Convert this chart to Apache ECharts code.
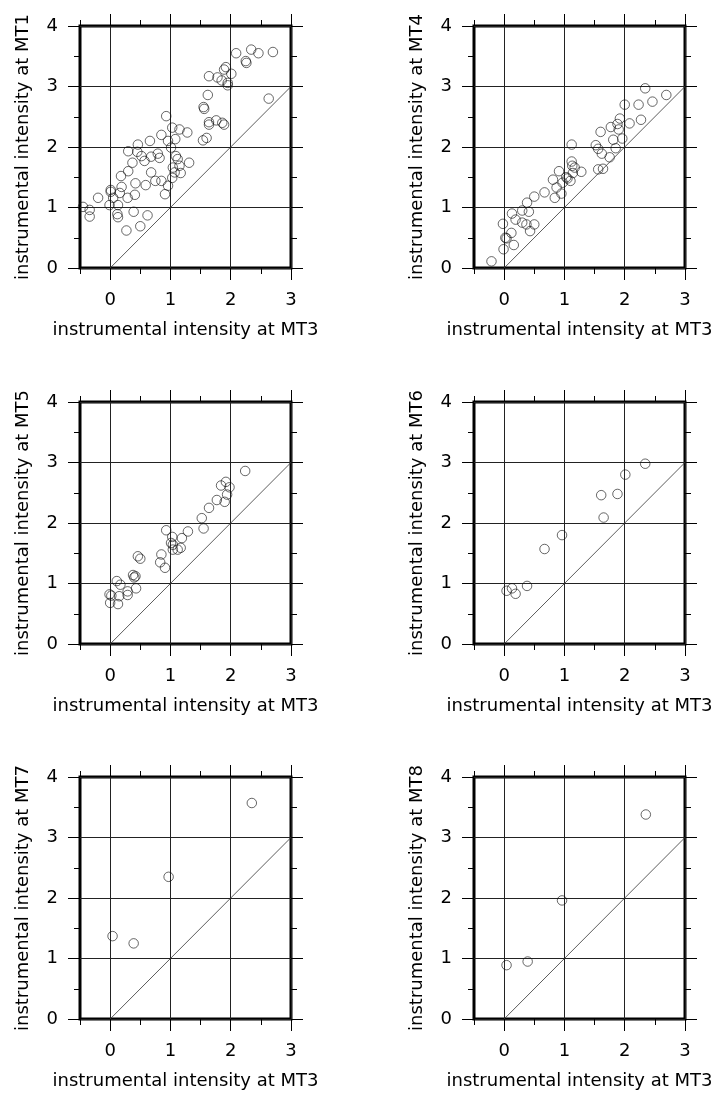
<!DOCTYPE html>
<html>
<head>
<meta charset="utf-8">
<script src="https://cdn.jsdelivr.net/npm/echarts@6/dist/echarts.min.js"></script>
<style>
  html, body { margin: 0; padding: 0; background: #fff; }
  #main { width: 721px; height: 1095px; }
</style>
</head>
<body>
<div id="main"></div>
<script>
// tick values
const xMajor = [0, 1, 2, 3];
const xName = 'instrumental intensity at MT3';
const yStations = ['MT1', 'MT4', 'MT5', 'MT6', 'MT7', 'MT8'];
const diagonal = [[0, 0], [3, 3]];

// [intensity at MT3, intensity at station]
const mt1 = [
  [0.93, 2.51], [1.03, 2.32], [1.15, 2.29], [1.28, 2.24], [0.85, 2.20], [0.46, 2.04], [0.66, 2.10],
  [0.96, 2.10], [1.08, 2.13], [0.30, 1.93], [0.45, 1.92], [0.52, 1.85], [0.68, 1.84], [0.79, 1.89],
  [0.82, 1.82], [0.37, 1.74], [0.57, 1.77], [1.01, 1.99], [1.09, 1.85], [1.12, 1.80], [1.15, 1.69],
  [1.04, 1.66], [0.30, 1.60], [0.18, 1.52], [0.68, 1.58], [1.07, 1.58], [1.03, 1.49], [0.42, 1.40],
  [0.59, 1.37], [0.75, 1.44], [0.85, 1.44], [0.96, 1.36], [0.01, 1.29], [0.01, 1.26], [0.19, 1.34],
  [0.16, 1.24], [0.05, 1.16], [0.29, 1.16], [0.41, 1.21], [0.91, 1.22], [-0.20, 1.16], [-0.45, 1.01],
  [-0.34, 0.96], [-0.34, 0.85], [-0.01, 1.04], [0.13, 1.04], [0.12, 0.89], [0.13, 0.84], [0.39, 0.93],
  [0.62, 0.87], [0.50, 0.69], [0.27, 0.62],
  [2.09, 3.55], [2.34, 3.61], [2.46, 3.55], [2.70, 3.57], [2.25, 3.42], [2.26, 3.39], [1.92, 3.32],
  [1.89, 3.28], [2.01, 3.21], [1.64, 3.17], [1.78, 3.15], [1.85, 3.10], [1.95, 3.06], [1.95, 3.02],
  [2.63, 2.80], [1.62, 2.86], [1.55, 2.66], [1.56, 2.63], [1.64, 2.41], [1.64, 2.37], [1.76, 2.44],
  [1.86, 2.40], [1.89, 2.37], [1.60, 2.15], [1.54, 2.11], [1.31, 1.74], [1.17, 1.57]
];
const mt4 = [
  [2.34, 2.97], [2.69, 2.86], [2.46, 2.75], [2.23, 2.70], [2.00, 2.70], [1.92, 2.47], [1.77, 2.33],
  [1.88, 2.38], [1.90, 2.29], [2.08, 2.39], [2.27, 2.45], [1.60, 2.25], [1.81, 2.12], [1.96, 2.14],
  [1.85, 1.98], [1.52, 2.03], [1.56, 1.97], [1.62, 1.89], [1.75, 1.83], [1.56, 1.63], [1.64, 1.64],
  [1.12, 2.04], [1.12, 1.76], [1.13, 1.69], [1.17, 1.66], [1.28, 1.59], [1.14, 1.57], [0.91, 1.60],
  [1.03, 1.50], [1.05, 1.48], [1.10, 1.44], [0.81, 1.46], [0.97, 1.41], [0.87, 1.33], [0.95, 1.23],
  [0.84, 1.16], [0.67, 1.25], [0.50, 1.18], [0.38, 1.08], [0.41, 0.93], [0.30, 0.95], [0.13, 0.90],
  [0.19, 0.80], [0.30, 0.75], [0.37, 0.72], [0.50, 0.72], [0.43, 0.61], [0.12, 0.58], [-0.02, 0.73],
  [0.02, 0.50], [0.04, 0.49], [0.16, 0.38], [-0.01, 0.31], [-0.21, 0.11]
];
const mt5 = [
  [2.24, 2.86], [1.92, 2.68], [1.84, 2.62], [1.98, 2.59], [1.94, 2.47], [1.90, 2.35], [1.77, 2.38],
  [1.64, 2.25], [1.52, 2.08], [1.55, 1.91], [1.29, 1.86], [0.93, 1.88], [1.03, 1.77], [1.19, 1.75],
  [1.01, 1.67], [1.04, 1.64], [1.17, 1.59], [1.12, 1.56], [1.04, 1.56], [0.85, 1.48], [0.46, 1.45],
  [0.50, 1.41], [0.83, 1.35], [0.91, 1.26], [0.38, 1.14], [0.42, 1.12], [0.40, 1.10], [0.11, 1.04],
  [0.17, 0.98], [0.43, 0.92], [0.29, 0.87], [0.29, 0.81], [0.15, 0.79], [-0.01, 0.82], [0.02, 0.80],
  [0.00, 0.68], [0.13, 0.66]
];
const mt6 = [
  [2.34, 2.98], [2.01, 2.80], [1.61, 2.46], [1.88, 2.48], [1.65, 2.09], [0.96, 1.80], [0.67, 1.57],
  [0.38, 0.96], [0.13, 0.92], [0.04, 0.88], [0.19, 0.83]
];
const mt7 = [[2.35, 3.57], [0.97, 2.35], [0.04, 1.37], [0.39, 1.25]];
const mt8 = [[2.35, 3.38], [0.96, 1.96], [0.04, 0.89], [0.39, 0.95]];

const panels = [mt1, mt4, mt5, mt6, mt7, mt8];

const chart = echarts.init(document.getElementById('main'));
const font = 'DejaVu Sans';
const lefts = [80, 474];
const tops = [26, 402, 777];

const grid = [], xAxis = [], yAxis = [], series = [];

panels.forEach((data, i) => {
  grid.push({
    left: lefts[i % 2], top: tops[Math.floor(i / 2)], width: 211, height: 242,
    show: true, borderColor: '#000', borderWidth: 3, backgroundColor: 'transparent'
  });
  ['bottom', 'top'].forEach(pos => {
    // half-unit ticks
    xAxis.push({
      gridIndex: i, type: 'value', position: pos, min: -0.5, max: 3, interval: 0.5,
      axisLine: { show: false, onZero: false },
      axisTick: { show: true, inside: false, length: 6, lineStyle: { color: '#000', width: 1 } },
      axisLabel: { show: false },
      splitLine: { show: false }
    });
    // integer ticks, labels, grid lines
    xAxis.push({
      gridIndex: i, type: 'value', position: pos, min: -0.5, max: 3,
      axisLine: { show: false, onZero: false },
      axisTick: { show: true, inside: false, length: 12, customValues: xMajor, lineStyle: { color: '#000', width: 1 } },
      axisLabel: { show: pos === 'bottom', customValues: xMajor, margin: 23, fontSize: 18, color: '#000', fontFamily: font },
      splitLine: { show: pos === 'bottom', lineStyle: { color: '#222', width: 1 } },
      name: pos === 'bottom' ? xName : '',
      nameLocation: 'middle', nameGap: 53,
      nameTextStyle: { fontSize: 18, color: '#000', fontFamily: font }
    });
  });
  ['left', 'right'].forEach(pos => {
    yAxis.push({
      gridIndex: i, type: 'value', position: pos, min: 0, max: 4, interval: 1,
      axisLine: { show: false, onZero: false },
      axisTick: { show: true, inside: false, length: 12, lineStyle: { color: '#000', width: 1 } },
      minorTick: { show: true, splitNumber: 2, length: 6, lineStyle: { color: '#000', width: 1 } },
      axisLabel: { show: pos === 'left', margin: 22, fontSize: 18, color: '#000', fontFamily: font },
      splitLine: { show: pos === 'left', lineStyle: { color: '#222', width: 1 } },
      name: pos === 'left' ? 'instrumental intensity at ' + yStations[i] : '',
      nameLocation: 'middle', nameGap: 48, nameMoveOverlap: false,
      nameTextStyle: { fontSize: 18, color: '#000', fontFamily: font }
    });
  });
  series.push({
    type: 'line', xAxisIndex: i * 4, yAxisIndex: i * 2, data: diagonal,
    symbol: 'none', silent: true,
    lineStyle: { color: '#333', width: 0.8 }
  });
  series.push({
    type: 'scatter', xAxisIndex: i * 4, yAxisIndex: i * 2, data: data,
    symbol: 'circle', symbolSize: 9.5,
    itemStyle: { color: 'rgba(0,0,0,0)', borderColor: '#111', borderWidth: 0.8 }
  });
});

chart.setOption({
  animation: false,
  backgroundColor: '#fff',
  grid: grid,
  xAxis: xAxis,
  yAxis: yAxis,
  series: series
});
window.addEventListener('resize', () => {
  chart.resize();
});
</script>
</body>
</html>
